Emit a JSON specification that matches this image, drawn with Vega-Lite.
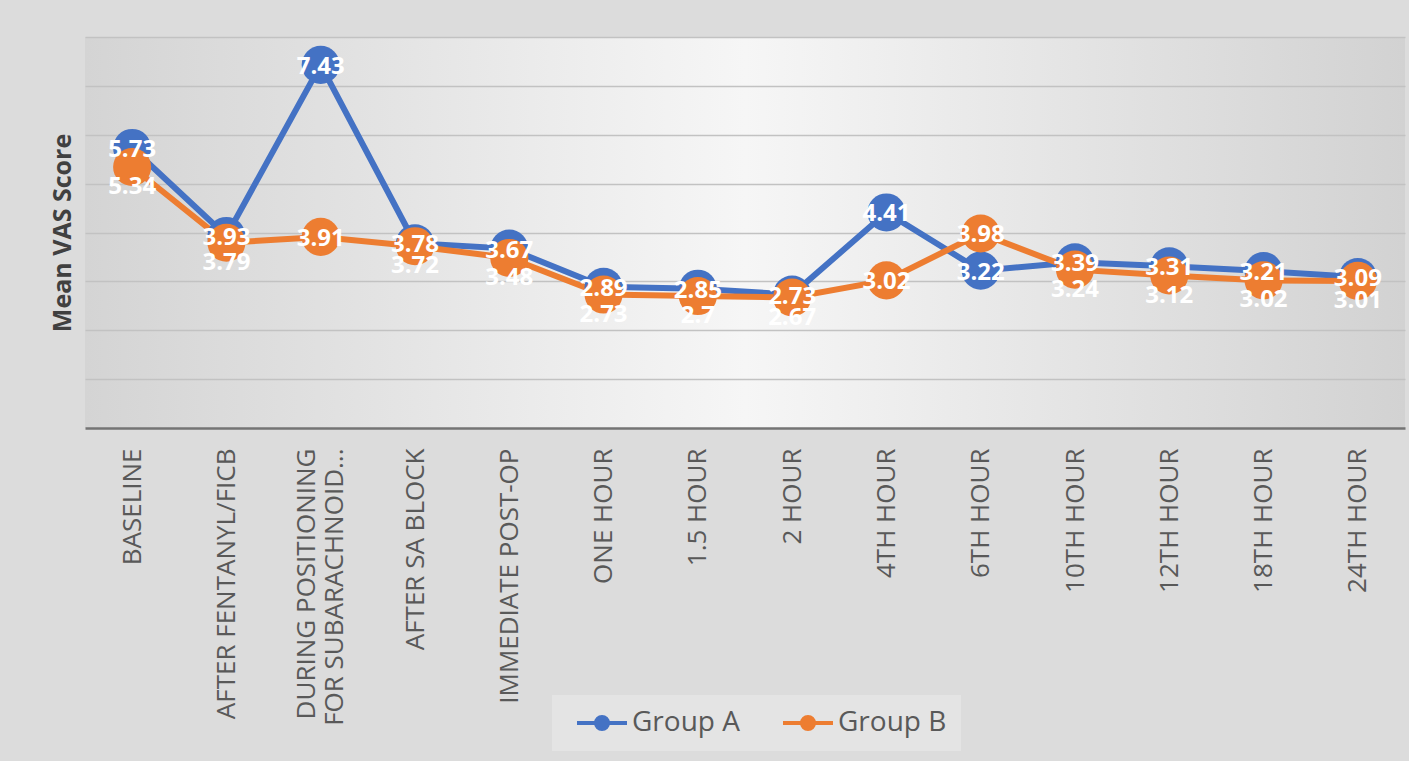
{
  "$schema": "https://vega.github.io/schema/vega-lite/v6.json",
  "width": 1320,
  "height": 391,
  "autosize": {"type": "none"},
  "padding": {"left": 85, "top": 37, "right": 4, "bottom": 333},
  "background": "#dcdcdc",
  "config": {
    "font": "Open Sans",
    "view": {
      "stroke": null,
      "fill": {
        "gradient": "linear", "x1": 0, "y1": 0, "x2": 1, "y2": 0,
        "stops": [
          {"offset": 0, "color": "#d4d4d4"},
          {"offset": 0.5, "color": "#f6f6f6"},
          {"offset": 1, "color": "#d2d2d2"}
        ]
      }
    }
  },
  "data": {
    "values": [
      {"time": "BASELINE", "Group A": 5.73, "Group B": 5.34},
      {"time": "AFTER FENTANYL/FICB", "Group A": 3.93, "Group B": 3.79},
      {"time": "DURING POSITIONING FOR SUBARACHNOID...", "Group A": 7.43, "Group B": 3.91},
      {"time": "AFTER SA BLOCK", "Group A": 3.78, "Group B": 3.72},
      {"time": "IMMEDIATE POST-OP", "Group A": 3.67, "Group B": 3.48},
      {"time": "ONE HOUR", "Group A": 2.89, "Group B": 2.73},
      {"time": "1.5 HOUR", "Group A": 2.85, "Group B": 2.7},
      {"time": "2 HOUR", "Group A": 2.73, "Group B": 2.67},
      {"time": "4TH HOUR", "Group A": 4.41, "Group B": 3.02},
      {"time": "6TH HOUR", "Group A": 3.22, "Group B": 3.98},
      {"time": "10TH HOUR", "Group A": 3.39, "Group B": 3.24},
      {"time": "12TH HOUR", "Group A": 3.31, "Group B": 3.12},
      {"time": "18TH HOUR", "Group A": 3.21, "Group B": 3.02},
      {"time": "24TH HOUR", "Group A": 3.09, "Group B": 3.01}
    ]
  },
  "transform": [{"fold": ["Group A", "Group B"], "as": ["series", "value"]}],
  "encoding": {
    "x": {
      "field": "time", "type": "nominal", "sort": null,
      "axis": {
        "title": null, "labelAngle": -90, "labelAlign": "right", "labelBaseline": "middle",
        "labelFontSize": 26, "labelColor": "#595959", "labelPadding": 20, "labelLimit": 400,
        "labelLineHeight": 28, "ticks": false, "tickSize": 0, "grid": false,
        "domainColor": "#747474", "domainWidth": 2.5,
        "labelOffset": {"condition": {"test": "datum.value == 'DURING POSITIONING FOR SUBARACHNOID...'", "value": -14}, "value": 0},
        "labelExpr": "datum.value == 'DURING POSITIONING FOR SUBARACHNOID...' ? ['DURING POSITIONING', 'FOR SUBARACHNOID...'] : datum.value"
      }
    },
    "y": {
      "field": "value", "type": "quantitative",
      "scale": {"domain": [0, 8], "nice": false},
      "axis": {
        "title": "Mean VAS Score", "titleFontSize": 25, "titleFontWeight": "bold", "titleColor": "#404040",
        "titlePadding": 10, "labels": false, "ticks": false, "domain": false,
        "grid": true, "gridColor": "#c2c2c2", "gridWidth": 1.3, "values": [1, 2, 3, 4, 5, 6, 7, 8]
      }
    },
    "color": {
      "field": "series", "type": "nominal",
      "scale": {"domain": ["Group A", "Group B"], "range": ["#4472C4", "#ED7D31"]},
      "legend": {
        "orient": "none", "legendX": 467, "legendY": 658, "direction": "horizontal", "title": null,
        "labelFontSize": 28, "labelColor": "#595959", "fillColor": "#e4e4e4", "padding": 14,
        "symbolType": "M-2.5,0L2.5,0M-0.6,0A0.6,0.6 0 1,1 0.6,0A0.6,0.6 0 1,1 -0.6,0Z",
        "symbolSize": 400, "symbolStrokeWidth": 4, "symbolOffset": 22, "labelOffset": 16, "columnPadding": 32,
        "encode": {"symbols": {"update": {"fill": {"scale": "color", "field": "value"}, "stroke": {"scale": "color", "field": "value"}, "opacity": {"value": 1}}}}
      }
    }
  },
  "layer": [
    {"mark": {"type": "line", "strokeWidth": 6}},
    {"mark": {"type": "point", "filled": true, "size": 1450, "opacity": 1}},
    {
      "transform": [{"filter": "datum.series == 'Group A' || abs(datum['Group A'] - datum['Group B']) >= 0.5"}],
      "mark": {"type": "text", "fontSize": 24, "fontWeight": "bold", "dy": 2},
      "encoding": {"text": {"field": "value", "type": "quantitative"}, "color": {"value": "white"}}
    },
    {
      "transform": [{"filter": "datum.series == 'Group B' && abs(datum['Group A'] - datum['Group B']) < 0.5"}],
      "mark": {"type": "text", "fontSize": 24, "fontWeight": "bold", "dy": 20},
      "encoding": {"text": {"field": "value", "type": "quantitative"}, "color": {"value": "white"}}
    }
  ]
}
